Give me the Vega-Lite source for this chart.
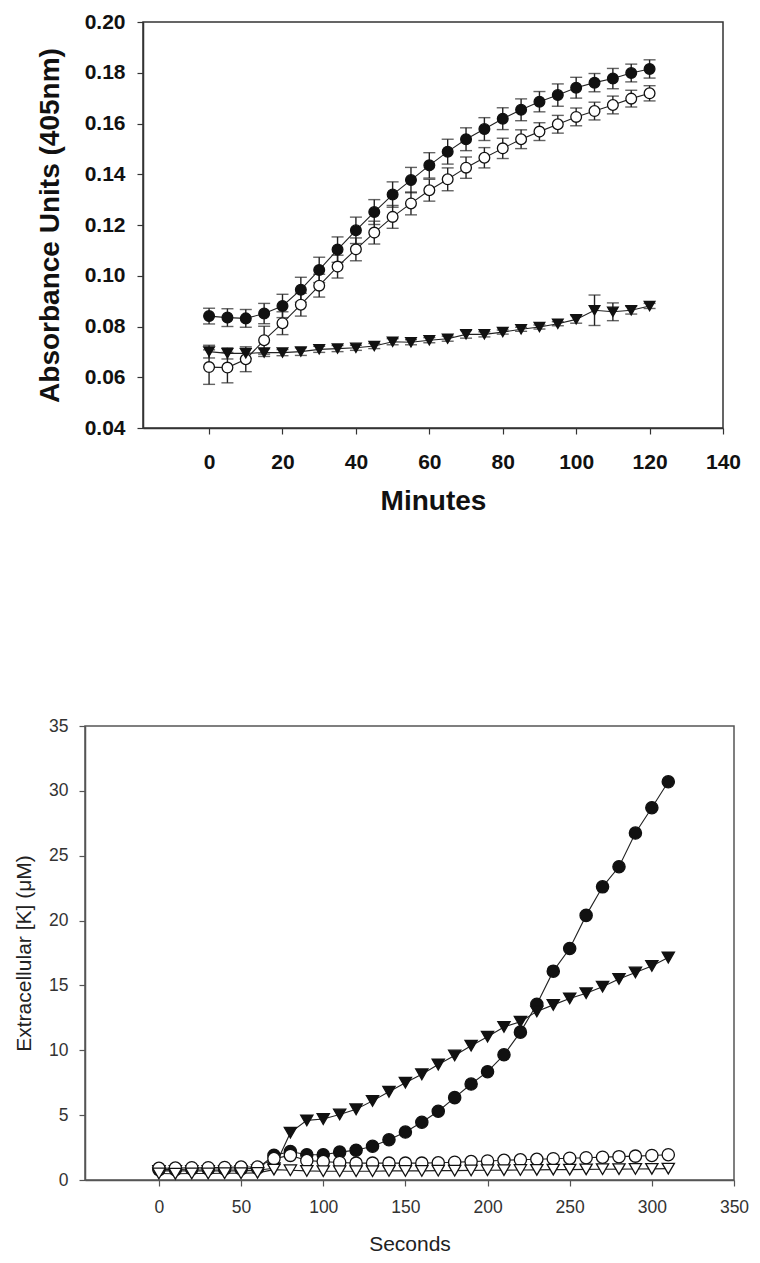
{
  "$schema": "https://vega.github.io/schema/vega-lite/v6.json",
  "background": "white",
  "padding": {"left": 12, "top": 10, "right": 5, "bottom": 2},
  "spacing": 200,
  "resolve": {"scale": {"shape": "independent", "fill": "independent", "size": "independent"}},
  "config": {
    "font": "Liberation Sans",
    "view": {"stroke": "#333333", "strokeWidth": 1.5},
    "axis": {"grid": false, "domainColor": "#333333", "tickColor": "#333333", "domainWidth": 1.5, "tickWidth": 1.2, "tickSize": 6, "labelColor": "#111111", "titleColor": "#111111", "labelFlush": false, "labelOverlap": false}
  },
  "datasets": {
    "top": [
      {"t":0,"s":"A","v":0.0841,"e":0.0031},{"t":5,"s":"A","v":0.0835,"e":0.0035},{"t":10,"s":"A","v":0.0832,"e":0.0035},{"t":15,"s":"A","v":0.0851,"e":0.0040},{"t":20,"s":"A","v":0.0881,"e":0.0046},{"t":25,"s":"A","v":0.0945,"e":0.0049},{"t":30,"s":"A","v":0.1023,"e":0.0050},{"t":35,"s":"A","v":0.1103,"e":0.0050},{"t":40,"s":"A","v":0.1179,"e":0.0052},{"t":45,"s":"A","v":0.1251,"e":0.0049},{"t":50,"s":"A","v":0.1320,"e":0.0050},{"t":55,"s":"A","v":0.1377,"e":0.0050},{"t":60,"s":"A","v":0.1435,"e":0.0050},{"t":65,"s":"A","v":0.1489,"e":0.0049},{"t":70,"s":"A","v":0.1538,"e":0.0045},{"t":75,"s":"A","v":0.1578,"e":0.0045},{"t":80,"s":"A","v":0.1619,"e":0.0043},{"t":85,"s":"A","v":0.1654,"e":0.0043},{"t":90,"s":"A","v":0.1686,"e":0.0040},{"t":95,"s":"A","v":0.1712,"e":0.0044},{"t":100,"s":"A","v":0.1741,"e":0.0041},{"t":105,"s":"A","v":0.1761,"e":0.0036},{"t":110,"s":"A","v":0.1777,"e":0.0040},{"t":115,"s":"A","v":0.1799,"e":0.0035},{"t":120,"s":"A","v":0.1815,"e":0.0036},
      {"t":0,"s":"B","v":0.0640,"e":0.0068},{"t":5,"s":"B","v":0.0638,"e":0.0060},{"t":10,"s":"B","v":0.0671,"e":0.0049},{"t":15,"s":"B","v":0.0746,"e":0.0055},{"t":20,"s":"B","v":0.0813,"e":0.0045},{"t":25,"s":"B","v":0.0886,"e":0.0045},{"t":30,"s":"B","v":0.0961,"e":0.0045},{"t":35,"s":"B","v":0.1036,"e":0.0045},{"t":40,"s":"B","v":0.1104,"e":0.0045},{"t":45,"s":"B","v":0.1170,"e":0.0045},{"t":50,"s":"B","v":0.1232,"e":0.0045},{"t":55,"s":"B","v":0.1285,"e":0.0045},{"t":60,"s":"B","v":0.1337,"e":0.0043},{"t":65,"s":"B","v":0.1380,"e":0.0045},{"t":70,"s":"B","v":0.1426,"e":0.0042},{"t":75,"s":"B","v":0.1465,"e":0.0040},{"t":80,"s":"B","v":0.1502,"e":0.0040},{"t":85,"s":"B","v":0.1538,"e":0.0037},{"t":90,"s":"B","v":0.1568,"e":0.0035},{"t":95,"s":"B","v":0.1597,"e":0.0035},{"t":100,"s":"B","v":0.1626,"e":0.0035},{"t":105,"s":"B","v":0.1649,"e":0.0035},{"t":110,"s":"B","v":0.1673,"e":0.0035},{"t":115,"s":"B","v":0.1698,"e":0.0033},{"t":120,"s":"B","v":0.1719,"e":0.0030},
      {"t":0,"s":"C","v":0.0701,"e":0.0025},{"t":5,"s":"C","v":0.0694,"e":0.0022},{"t":10,"s":"C","v":0.0694,"e":0.0020},{"t":15,"s":"C","v":0.0697,"e":0.0015},{"t":20,"s":"C","v":0.0697,"e":0.0012},{"t":25,"s":"C","v":0.0701,"e":0.0015},{"t":30,"s":"C","v":0.0710,"e":0.0012},{"t":35,"s":"C","v":0.0713,"e":0.0012},{"t":40,"s":"C","v":0.0716,"e":0.0010},{"t":45,"s":"C","v":0.0723,"e":0.0010},{"t":50,"s":"C","v":0.0740,"e":0.0012},{"t":55,"s":"C","v":0.0738,"e":0.0010},{"t":60,"s":"C","v":0.0746,"e":0.0010},{"t":65,"s":"C","v":0.0752,"e":0.0010},{"t":70,"s":"C","v":0.0769,"e":0.0015},{"t":75,"s":"C","v":0.0769,"e":0.0010},{"t":80,"s":"C","v":0.0778,"e":0.0008},{"t":85,"s":"C","v":0.0789,"e":0.0008},{"t":90,"s":"C","v":0.0798,"e":0.0008},{"t":95,"s":"C","v":0.0811,"e":0.0008},{"t":100,"s":"C","v":0.0828,"e":0.0015},{"t":105,"s":"C","v":0.0864,"e":0.0060},{"t":110,"s":"C","v":0.0858,"e":0.0035},{"t":115,"s":"C","v":0.0864,"e":0.0015},{"t":120,"s":"C","v":0.0881,"e":0.0010}
    ],
    "bottom": [
      {"t":0,"s":"A","v":0.8},{"t":10,"s":"A","v":0.8},{"t":20,"s":"A","v":0.85},{"t":30,"s":"A","v":0.85},{"t":40,"s":"A","v":0.85},{"t":50,"s":"A","v":0.85},{"t":60,"s":"A","v":0.9},{"t":70,"s":"A","v":1.9},{"t":80,"s":"A","v":2.2},{"t":90,"s":"A","v":1.95},{"t":100,"s":"A","v":1.95},{"t":110,"s":"A","v":2.15},{"t":120,"s":"A","v":2.3},{"t":130,"s":"A","v":2.6},{"t":140,"s":"A","v":3.1},{"t":150,"s":"A","v":3.7},{"t":160,"s":"A","v":4.45},{"t":170,"s":"A","v":5.3},{"t":180,"s":"A","v":6.35},{"t":190,"s":"A","v":7.4},{"t":200,"s":"A","v":8.35},{"t":210,"s":"A","v":9.65},{"t":220,"s":"A","v":11.4},{"t":230,"s":"A","v":13.55},{"t":240,"s":"A","v":16.1},{"t":250,"s":"A","v":17.85},{"t":260,"s":"A","v":20.4},{"t":270,"s":"A","v":22.6},{"t":280,"s":"A","v":24.15},{"t":290,"s":"A","v":26.75},{"t":300,"s":"A","v":28.7},{"t":310,"s":"A","v":30.7},
      {"t":0,"s":"C","v":0.7},{"t":10,"s":"C","v":0.7},{"t":20,"s":"C","v":0.7},{"t":30,"s":"C","v":0.7},{"t":40,"s":"C","v":0.7},{"t":50,"s":"C","v":0.7},{"t":60,"s":"C","v":0.75},{"t":70,"s":"C","v":0.9},{"t":80,"s":"C","v":3.65},{"t":90,"s":"C","v":4.6},{"t":100,"s":"C","v":4.7},{"t":110,"s":"C","v":5.05},{"t":120,"s":"C","v":5.45},{"t":130,"s":"C","v":6.1},{"t":140,"s":"C","v":6.8},{"t":150,"s":"C","v":7.5},{"t":160,"s":"C","v":8.15},{"t":170,"s":"C","v":8.9},{"t":180,"s":"C","v":9.6},{"t":190,"s":"C","v":10.35},{"t":200,"s":"C","v":11.05},{"t":210,"s":"C","v":11.8},{"t":220,"s":"C","v":12.2},{"t":230,"s":"C","v":13.0},{"t":240,"s":"C","v":13.5},{"t":250,"s":"C","v":14.0},{"t":260,"s":"C","v":14.4},{"t":270,"s":"C","v":14.9},{"t":280,"s":"C","v":15.5},{"t":290,"s":"C","v":16.0},{"t":300,"s":"C","v":16.5},{"t":310,"s":"C","v":17.15},
      {"t":0,"s":"B","v":0.9},{"t":10,"s":"B","v":0.92},{"t":20,"s":"B","v":0.95},{"t":30,"s":"B","v":0.95},{"t":40,"s":"B","v":0.97},{"t":50,"s":"B","v":1.0},{"t":60,"s":"B","v":1.0},{"t":70,"s":"B","v":1.65},{"t":80,"s":"B","v":1.9},{"t":90,"s":"B","v":1.5},{"t":100,"s":"B","v":1.42},{"t":110,"s":"B","v":1.35},{"t":120,"s":"B","v":1.3},{"t":130,"s":"B","v":1.3},{"t":140,"s":"B","v":1.3},{"t":150,"s":"B","v":1.3},{"t":160,"s":"B","v":1.3},{"t":170,"s":"B","v":1.33},{"t":180,"s":"B","v":1.37},{"t":190,"s":"B","v":1.42},{"t":200,"s":"B","v":1.47},{"t":210,"s":"B","v":1.52},{"t":220,"s":"B","v":1.56},{"t":230,"s":"B","v":1.6},{"t":240,"s":"B","v":1.64},{"t":250,"s":"B","v":1.68},{"t":260,"s":"B","v":1.72},{"t":270,"s":"B","v":1.76},{"t":280,"s":"B","v":1.8},{"t":290,"s":"B","v":1.84},{"t":300,"s":"B","v":1.89},{"t":310,"s":"B","v":1.95},
      {"t":0,"s":"D","v":0.5},{"t":10,"s":"D","v":0.48},{"t":20,"s":"D","v":0.5},{"t":30,"s":"D","v":0.5},{"t":40,"s":"D","v":0.52},{"t":50,"s":"D","v":0.52},{"t":60,"s":"D","v":0.55},{"t":70,"s":"D","v":0.8},{"t":80,"s":"D","v":0.75},{"t":90,"s":"D","v":0.7},{"t":100,"s":"D","v":0.68},{"t":110,"s":"D","v":0.68},{"t":120,"s":"D","v":0.68},{"t":130,"s":"D","v":0.68},{"t":140,"s":"D","v":0.7},{"t":150,"s":"D","v":0.7},{"t":160,"s":"D","v":0.7},{"t":170,"s":"D","v":0.72},{"t":180,"s":"D","v":0.72},{"t":190,"s":"D","v":0.74},{"t":200,"s":"D","v":0.75},{"t":210,"s":"D","v":0.76},{"t":220,"s":"D","v":0.77},{"t":230,"s":"D","v":0.78},{"t":240,"s":"D","v":0.8},{"t":250,"s":"D","v":0.8},{"t":260,"s":"D","v":0.82},{"t":270,"s":"D","v":0.83},{"t":280,"s":"D","v":0.84},{"t":290,"s":"D","v":0.85},{"t":300,"s":"D","v":0.86},{"t":310,"s":"D","v":0.88}
    ]
  },
  "vconcat": [
    {
      "spacing": -60,
      "hconcat": [
        {"width": 10, "height": 10, "data": {"values": []}, "mark": "point", "encoding": {}, "view": {"stroke": null}},
        {
          "width": 580,
          "height": 406,
          "data": {"name": "top"},
          "encoding": {
            "x": {"field": "t", "type": "quantitative", "title": "Minutes",
              "scale": {"domain": [-18, 140], "nice": false, "zero": false},
              "axis": {"values": [0, 20, 40, 60, 80, 100, 120, 140], "labelFontSize": 21, "labelFontWeight": "bold", "titleFontSize": 28, "titleFontWeight": "bold", "labelPadding": 17, "titlePadding": 15}},
            "y": {"field": "v", "type": "quantitative", "title": "Absorbance Units (405nm)",
              "scale": {"domain": [0.04, 0.2], "nice": false, "zero": false},
              "axis": {"values": [0.04, 0.06, 0.08, 0.1, 0.12, 0.14, 0.16, 0.18, 0.2], "format": ".2f", "labelFontSize": 21, "labelFontWeight": "bold", "titleFontSize": 28, "titleFontWeight": "bold", "labelPadding": 12, "titlePadding": 20}}
          },
          "layer": [
            {"mark": {"type": "errorbar", "ticks": {"size": 12, "thickness": 1.4}, "thickness": 1.4, "color": "#222222"},
             "encoding": {"yError": {"field": "e"}, "detail": {"field": "s", "type": "nominal"}}},
            {"mark": {"type": "line", "color": "#222222", "strokeWidth": 1.1},
             "encoding": {"detail": {"field": "s", "type": "nominal"}}},
            {"mark": {"type": "point", "filled": true, "opacity": 1, "stroke": "#111111", "strokeWidth": 1.3},
             "encoding": {
               "shape": {"field": "s", "type": "nominal", "scale": {"domain": ["A", "B", "C"], "range": ["circle", "circle", "triangle-down"]}, "legend": null},
               "fill": {"field": "s", "type": "nominal", "scale": {"domain": ["A", "B", "C"], "range": ["#111111", "#ffffff", "#111111"]}, "legend": null},
               "size": {"field": "s", "type": "nominal", "scale": {"domain": ["A", "B", "C"], "range": [115, 115, 140]}, "legend": null}
             }}
          ]
        }
      ]
    },
    {
      "hconcat": [
        {
          "width": 649,
          "height": 454,
          "data": {"name": "bottom"},
          "view": {"stroke": "#555555", "strokeWidth": 1.5},
          "encoding": {
            "x": {"field": "t", "type": "quantitative", "title": "Seconds",
              "scale": {"domain": [-45, 350], "nice": false, "zero": false},
              "axis": {"values": [0, 50, 100, 150, 200, 250, 300, 350], "labelFontSize": 17.5, "titleFontSize": 21, "titleFontWeight": "normal", "labelPadding": 12, "titlePadding": 18, "domainColor": "#555555", "tickColor": "#555555", "labelColor": "#333333", "titleColor": "#222222"}},
            "y": {"field": "v", "type": "quantitative", "title": "Extracellular [K] (μM)",
              "scale": {"domain": [0, 35], "nice": false, "zero": false},
              "axis": {"values": [0, 5, 10, 15, 20, 25, 30, 35], "labelFontSize": 17.5, "titleFontSize": 21, "titleFontWeight": "normal", "labelPadding": 11, "titlePadding": 14, "domainColor": "#555555", "tickColor": "#555555", "labelColor": "#333333", "titleColor": "#222222"}}
          },
          "layer": [
            {"mark": {"type": "line", "color": "#222222", "strokeWidth": 1.1},
             "encoding": {"detail": {"field": "s", "type": "nominal"}}},
            {"mark": {"type": "point", "filled": true, "opacity": 1, "stroke": "#111111", "strokeWidth": 1.3},
             "encoding": {
               "shape": {"field": "s", "type": "nominal", "scale": {"domain": ["A", "B", "C", "D"], "range": ["circle", "circle", "triangle-down", "triangle-down"]}, "legend": null},
               "fill": {"field": "s", "type": "nominal", "scale": {"domain": ["A", "B", "C", "D"], "range": ["#111111", "#ffffff", "#111111", "#ffffff"]}, "legend": null},
               "size": {"field": "s", "type": "nominal", "scale": {"domain": ["A", "B", "C", "D"], "range": [150, 150, 175, 175]}, "legend": null}
             }}
          ]
        }
      ]
    }
  ]
}
